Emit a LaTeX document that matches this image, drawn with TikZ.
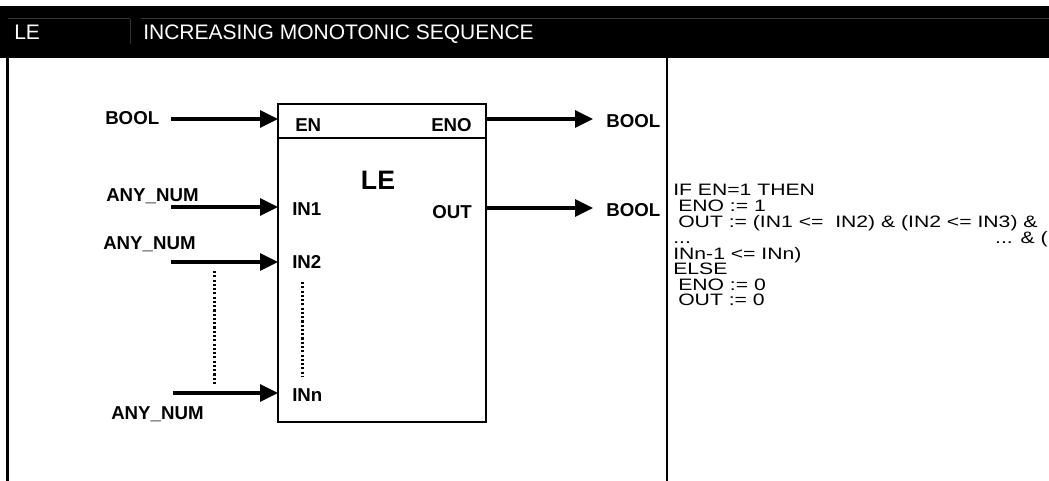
\documentclass[tikz,border=0pt]{standalone}
\usepackage{fontspec}
\setmainfont{Liberation Sans}
\newfontfamily\codefont[FakeStretch=1.28]{Liberation Sans}
\usetikzlibrary{arrows.meta}
\begin{document}
\begin{tikzpicture}[x=0.75pt,y=-0.75pt,
  lbl/.style={font=\fontsize{14}{16}\selectfont\bfseries, inner sep=0pt, text height=10pt, text depth=0pt},
  hdr/.style={font=\fontsize{15.75}{18}\selectfont, text=white, inner sep=0pt, text height=11.3pt, text depth=0pt, anchor=west},
  codeln/.style={font=\codefont\fontsize{12.4}{14}\selectfont, inner sep=0pt, text height=8.9pt, text depth=0pt, anchor=west},
  sig/.style={line width=2.4pt, -{Triangle[length=13.5pt,width=12.75pt]}},
  dots/.style={line width=2.25pt, dash pattern=on 1.6pt off 1.6pt},
  rule/.style={line width=2pt},
  faint/.style={draw=black!80, line width=0.75pt}
]
\useasboundingbox (0,0) rectangle (1049,481);
% header band
\fill[black] (0,6) rectangle (1049,58);
\draw[faint] (8,19) -- (130,19);
\draw[faint] (141,19) -- (1049,19);
\draw[faint] (130,19) -- (130,44);
\node[hdr] (hname) at (14,32) {LE};
\node[hdr] (htitle) at (143,32) {INCREASING MONOTONIC SEQUENCE};
% table rules
\draw[line width=2.25pt] (7.5,58) -- (7.5,481);
\draw[rule] (667,58) -- (667,481);
% block
\node[draw, line width=1.6pt, minimum width=156pt, minimum height=238.5pt, inner sep=0pt, outer sep=0pt] (blk) at (382,263) {};
\coordinate (sepy) at (0,138);
\draw[line width=1.6pt] (blk.west |- sepy) -- (blk.east |- sepy);
% block texts
\node[lbl, anchor=west] (pen) at (295,125) {EN};
\node[lbl, anchor=east] (peno) at (472,125) {ENO};
\node[font=\fontsize{20}{22}\selectfont\bfseries, inner sep=0pt, text height=14.3pt, text depth=0pt] (bname) at (378,180) {LE};
\node[lbl, anchor=west] (pin1) at (292,209) {IN1};
\node[lbl, anchor=east] (pout) at (472,212) {OUT};
\node[lbl, anchor=west] (pin2) at (292,262) {IN2};
\node[lbl, anchor=west] (pinn) at (292,395) {INn};
% input connectors
\coordinate (enS) at (171,119);
\coordinate (in1S) at (171,207);
\coordinate (in2S) at (171,262);
\coordinate (innS) at (173,393);
\draw[sig] (enS) -- (enS -| blk.west);
\draw[sig] (in1S) -- (in1S -| blk.west);
\draw[sig] (in2S) -- (in2S -| blk.west);
\draw[sig] (innS) -- (innS -| blk.west);
% output connectors
\coordinate (enoE) at (593,119);
\coordinate (outE) at (593,208);
\draw[sig] (enoE -| blk.east) -- (enoE);
\draw[sig] (outE -| blk.east) -- (outE);
% dotted continuation
\coordinate (d1a) at (214,271);
\coordinate (d1b) at (214,384);
\coordinate (d2a) at (302,282);
\coordinate (d2b) at (302,377);
\draw[dots] (d1a) -- (d1b);
\draw[dots] (d2a) -- (d2b);
% type labels
\node[lbl, anchor=west] (tbool1) at (105,118) {BOOL};
\node[lbl, anchor=west] (tnum1) at (106,195) {ANY\_NUM};
\node[lbl, anchor=west] (tnum2) at (103,243) {ANY\_NUM};
\node[lbl, anchor=west] (tnumn) at (111,413) {ANY\_NUM};
\node[lbl, anchor=west] (tbool2) at (606,121) {BOOL};
\node[lbl, anchor=west] (tbool3) at (606,210) {BOOL};
% code
\node[codeln] (c1) at (673,190) {IF EN=1 THEN};
\node[codeln] (c2) at (678,206) {ENO := 1};
\node[codeln] (c3) at (678,222) {OUT := (IN1 <= \ IN2) \& (IN2 <= IN3) \&};
\node[codeln] (c4a) at (673,237.5) {...};
\node[codeln, anchor=east] (c4b) at (1048,237.5) {... \& (};
\node[codeln] (c5) at (673,253.5) {INn-1 <= INn)};
\node[codeln] (c6) at (673,269) {ELSE};
\node[codeln] (c7) at (678,284.5) {ENO := 0};
\node[codeln] (c8) at (678,300) {OUT := 0};
\end{tikzpicture}
\end{document}
